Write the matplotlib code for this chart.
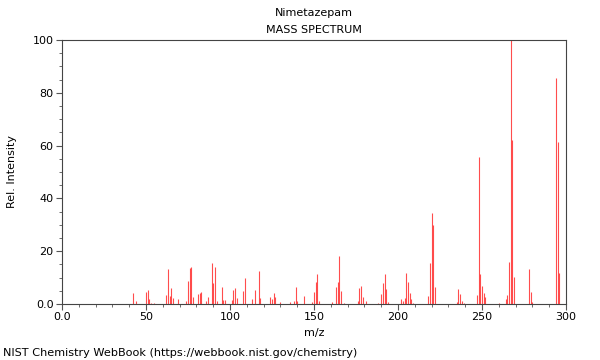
import numpy as np
import matplotlib
matplotlib.use("Agg")
import matplotlib.pyplot as plt
from matplotlib.ticker import MultipleLocator

# peaks (m/z, relative intensity)
mz = [42, 44, 50, 51, 52, 53, 55, 62, 63, 64, 65, 66, 69,
      74, 75, 76, 77, 78, 81, 82, 83, 86, 87, 89, 90, 91, 92,
      95, 96, 97, 101, 102, 103, 104, 108, 109, 113, 115, 117, 118,
      124, 125, 126, 127, 130, 136, 138, 139, 140, 144,
      149, 150, 151, 152, 153, 161, 163, 164, 165, 166, 168,
      176, 177, 178, 179, 181, 188, 190, 191, 192, 193, 194,
      202, 203, 204, 205, 206, 207, 208, 209,
      218, 219, 220, 221, 222, 235, 236, 237, 238, 239,
      247, 248, 249, 250, 251, 252, 260, 264, 265, 266, 267, 268, 269,
      278, 279, 280, 294, 295, 296]
intensity = [4.2, 1.0, 4.7, 5.4, 1.9, 0.5, 0.5, 3.5, 13.1, 3.0, 6.2, 2.1, 2.0,
             1.3, 8.8, 13.5, 14.0, 2.5, 3.8, 4.0, 4.5, 1.3, 2.8, 15.4, 8.0, 14.2, 1.3,
             6.3, 1.6, 1.6, 1.5, 5.4, 5.9, 2.3, 4.8, 9.7, 1.9, 5.4, 12.4, 2.3,
             2.8, 2.0, 4.3, 2.8, 0.6, 0.6, 1.3, 6.3, 1.3, 3.1,
             0.9, 4.4, 8.2, 11.5, 1.3, 0.9, 6.6, 8.5, 18.0, 4.8, 0.5,
             1.3, 6.2, 7.0, 2.8, 1.0, 0.5, 3.7, 8.0, 11.5, 5.8, 0.6,
             1.9, 1.1, 2.3, 11.7, 8.5, 4.0, 1.9, 0.5,
             2.9, 15.4, 34.6, 29.9, 6.3, 0.6, 5.8, 3.9, 1.3, 0.5,
             3.5, 55.8, 11.4, 6.9, 4.2, 2.5, 0.5, 2.0, 3.4, 16.0, 100.0, 62.1, 10.3,
             13.4, 4.7, 0.9, 85.6, 61.5, 11.6]

fig = plt.figure(figsize=(6, 3.6), dpi=100)
ax = fig.add_axes([62 / 600, 1 - 304 / 360, 504 / 600, 264 / 360])

ax.vlines(mz, 0, intensity, colors="#ff2020", linewidth=0.8, alpha=0.8)

ax.set_xlim(0, 300)
ax.set_ylim(0, 100)
ax.xaxis.set_minor_locator(MultipleLocator(10))
ax.yaxis.set_minor_locator(MultipleLocator(5))
ax.set_xticks([0, 50, 100, 150, 200, 250, 300])
ax.set_xticklabels(["0.0", "50", "100", "150", "200", "250", "300"])
ax.set_yticks([0, 20, 40, 60, 80, 100])
ax.set_yticklabels(["0.0", "20", "40", "60", "80", "100"])
ax.tick_params(which="major", length=4, width=0.8, color="#555555", labelsize=8, pad=2)
ax.tick_params(which="minor", length=2.5, width=0.6, color="#555555")
for s in ax.spines.values():
    s.set_color("#444444")
    s.set_linewidth(0.8)

ax.set_xlabel("m/z", fontsize=8, labelpad=4)
ax.set_ylabel("Rel. Intensity", fontsize=8, labelpad=11)

fig.text(314 / 600, 1 - 13 / 360, "Nimetazepam", ha="center", va="center", fontsize=8)
fig.text(314 / 600, 1 - 30 / 360, "MASS SPECTRUM", ha="center", va="center", fontsize=8)
fig.text(3 / 600, 1 - 353 / 360, "NIST Chemistry WebBook (https://webbook.nist.gov/chemistry)",
         ha="left", va="center", fontsize=8.15)

fig.savefig("out.png", dpi=100)
